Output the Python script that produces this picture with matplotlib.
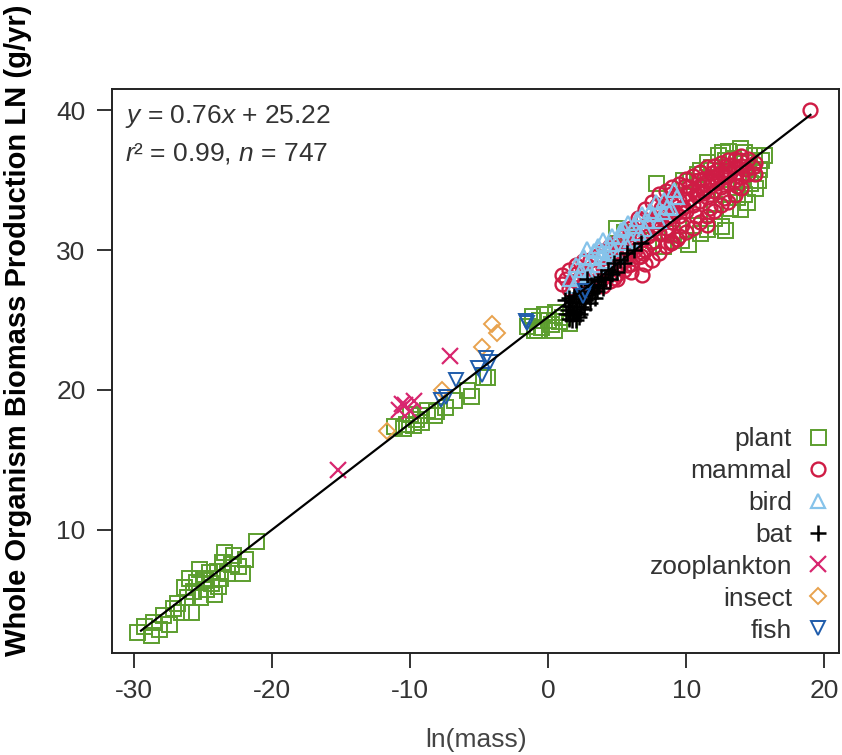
import matplotlib
matplotlib.use("Agg")
import matplotlib.pyplot as plt
import numpy as np

plt.rcParams['font.family'] = ['Liberation Sans', 'DejaVu Sans']
plt.rcParams['mathtext.fontset'] = 'custom'
plt.rcParams['mathtext.rm'] = 'Liberation Sans'
plt.rcParams['mathtext.it'] = 'Liberation Sans:italic'
plt.rcParams['axes.unicode_minus'] = False

# ---------------- data ----------------
plant_x = [-29.8, -29.3, -28.8, -28.6, -28.2, -27.9, -27.5, -27.2, -26.9, -26.6, -26.4, -26.2, -25.9,
           -25.7, -25.5, -25.2, -25.0, -24.8, -24.6, -24.4, -24.2, -24.0, -23.8, -23.6, -23.5, -23.3,
           -23.0, -22.8, -22.5, -22.2, -22.0, -21.2, -26.0, -25.3, -24.9, -23.9,
           -11.2, -10.5, -10.3, -9.6, -9.2, -9.3, -8.8, -8.3, -8.1, -7.5, -6.8, -5.9, -5.6, -4.7, -4.4,
           -10.0, -9.8,
           -1.5, -1.0, -0.8, -0.5, 0.0, 0.4, 0.8, -0.3, 0.5, 1.0, -1.2, 0.2, 1.5, -0.7,
           4.9, 5.5, 7.6, 7.8, 9.6, 10.1, 9.8, 11.5, 12.3, 13.0, 13.9, 14.9, 15.4, 13.7, 14.4, 13.9,
           12.5, 12.8, 11.0, 12.0, 14.8, 15.2, 14.5, 13.4, 12.8, 11.8, 10.8, 11.5, 13.2, 15.0, 14.2,
           13.5, 14.0, 14.6, 15.3, 12.0, 12.6, 10.5, 9.0, 8.3, 15.6, 14.2, 12.6, 11.0, 10.3]
plant_y = [2.7, 3.1, 2.5, 3.4, 2.9, 3.9, 3.3, 4.4, 4.8, 4.1, 5.9, 5.2, 4.1,
           5.6, 6.3, 5.2, 6.6, 5.8, 7.0, 6.2, 5.4, 7.1, 6.6, 7.7, 8.4, 6.9,
           7.6, 8.2, 7.4, 6.9, 7.9, 9.2, 6.6, 7.2, 6.4, 6.0,
           17.4, 17.3, 17.6, 17.9, 17.7, 18.2, 18.6, 18.2, 18.5, 18.8, 19.3, 20.0, 19.6, 20.9, 20.9,
           18.3, 17.5,
           24.6, 24.3, 24.3, 24.5, 25.0, 24.3, 24.9, 25.4, 25.6, 25.2, 25.3, 24.7, 24.8, 25.0,
           31.6, 31.3, 30.7, 34.8, 30.7, 30.4, 35.0, 36.3, 36.8, 37.1, 37.3, 36.8, 36.4, 33.8, 33.4, 32.9,
           31.7, 31.4, 31.2, 32.3, 35.6, 35.0, 36.3, 36.6, 36.4, 35.9, 35.4, 31.5, 33.0, 34.4, 34.0,
           34.5, 35.0, 34.8, 35.8, 33.3, 34.0, 31.8, 31.2, 30.3, 36.8, 37.0, 37.0, 35.7, 34.9]

mammal_x = [1.0, 1.0, 1.5, 1.5, 2.0, 2.0, 2.0, 2.5, 2.5, 2.5, 3.0, 3.0, 3.0, 3.5, 3.5, 3.5,
            4.0, 4.0, 4.0, 4.0, 4.5, 4.5, 4.5, 5.0, 5.0, 5.0, 5.0, 5.5, 5.5, 5.5, 5.5,
            6.0, 6.0, 6.0, 6.0, 6.5, 6.5, 6.5, 7.0, 7.0, 7.0, 7.0, 7.5, 7.5, 7.5, 7.5,
            8.0, 8.0, 8.0, 8.0, 8.5, 8.5, 8.5, 8.5, 9.0, 9.0, 9.0, 9.0, 9.5, 9.5, 9.5, 9.5,
            10.0, 10.0, 10.0, 10.0, 10.5, 10.5, 10.5, 10.5, 11.0, 11.0, 11.0, 11.0,
            11.5, 11.5, 11.5, 11.5, 11.5, 12.0, 12.0, 12.0, 12.0, 12.5, 12.5, 12.5, 12.5,
            13.0, 13.0, 13.0, 13.0, 13.5, 13.5, 13.5, 13.5, 14.0, 14.0, 14.0, 14.0,
            14.5, 14.5, 15.0, 15.0, 19.0, 6.8, 8.9, 9.3, 10.8, 12.2, 7.8, 6.3, 9.8, 11.3, 12.8,
            4.2, 4.7, 5.2, 5.7, 6.2, 6.7, 7.2, 7.7, 8.2, 8.7, 9.2, 9.7, 10.2, 10.7, 11.2, 11.7,
            12.2, 12.7, 13.2, 13.7,
            5.2, 6.2, 7.2, 8.2, 9.2, 10.2, 11.2, 12.2, 13.2,
            6.7, 7.7, 8.7, 9.7, 10.7, 11.7, 12.7, 13.7,
            3.2, 2.7, 1.8, 1.3, 3.8, 4.8, 5.8, 6.9,
            8.9, 9.9, 10.9, 11.9, 12.9, 13.9, 14.3, 14.8,
            7.9, 6.9, 5.9, 4.9]
mammal_y = [27.6, 28.2, 28.6, 27.2, 28.9, 27.8, 28.3, 29.2, 27.5, 28.5, 29.3, 28.0, 27.3, 29.6, 28.4, 27.6,
            29.9, 28.8, 27.4, 28.2, 30.3, 29.0, 27.8, 30.6, 29.6, 28.3, 27.9, 31.0, 30.0, 28.6, 29.2,
            31.6, 30.4, 29.0, 28.4, 32.3, 31.0, 29.5, 32.9, 31.4, 30.0, 29.0, 33.4, 32.0, 30.6, 29.3,
            34.0, 32.5, 31.2, 29.8, 34.2, 33.0, 31.6, 30.3, 34.5, 33.3, 32.0, 30.6, 34.7, 33.6, 32.4, 31.0,
            35.1, 34.0, 32.8, 31.3, 35.3, 34.3, 33.2, 31.6, 35.6, 34.6, 33.5, 32.0,
            35.9, 34.9, 33.8, 32.4, 31.8, 36.0, 35.2, 34.2, 32.8, 36.2, 35.5, 34.5, 33.2,
            36.4, 35.7, 34.8, 33.4, 36.5, 35.9, 35.0, 33.9, 36.7, 36.0, 35.2, 34.4,
            36.5, 35.4, 35.4, 36.2, 40.0, 28.2, 30.5, 30.8, 33.9, 34.8, 31.8, 30.0, 33.1, 34.1, 35.3,
            28.5, 29.3, 29.0, 29.7, 30.2, 30.7, 31.0, 31.5, 31.9, 32.3, 32.7, 33.0, 33.5, 33.9, 34.2, 34.6,
            34.9, 35.2, 35.5, 35.6,
            30.1, 31.2, 32.0, 33.0, 33.8, 34.5, 35.1, 35.7, 36.1,
            29.6, 30.3, 31.1, 31.8, 32.4, 33.0, 33.7, 34.6,
            28.7, 28.0, 27.3, 27.9, 27.9, 28.0, 28.9, 29.8,
            34.0, 34.6, 35.0, 35.5, 36.0, 36.4, 35.8, 35.9,
            33.2, 32.2, 31.3, 30.5]

bird_x = [1.9, 2.4, 2.8, 3.1, 3.5, 4.0, 4.3, 4.8, 5.3, 5.6, 6.0, 6.2, 6.6, 7.2, 7.6, 8.0, 8.6, 9.1,
          3.8, 2.2, 5.0, 7.0, 8.3, 3.0, 4.5,
          1.6, 2.0, 2.6, 3.3, 3.6, 4.1, 4.6, 5.1, 5.8, 6.4, 6.8, 7.4, 7.8, 8.4, 8.9, 9.3, 2.9, 3.9, 5.5]
bird_y = [27.4, 28.6, 30.1, 29.4, 28.9, 30.7, 29.8, 30.1, 31.4, 30.5, 30.7, 31.7, 31.2, 32.1, 32.6, 32.1,
          33.1, 34.3, 29.5, 28.0, 29.6, 31.5, 32.7, 28.5, 30.4,
          27.9, 28.9, 29.5, 29.9, 30.3, 29.2, 31.0, 30.9, 31.9, 32.2, 32.6, 32.8, 33.4, 33.6, 33.0, 33.8,
          28.2, 29.9, 31.6]

bat_x = [1.2, 1.4, 1.5, 1.6, 1.8, 1.9, 2.0, 2.1, 2.3, 2.4, 2.5, 2.6, 2.8, 2.9, 3.1, 3.3, 3.4, 3.6,
         3.8, 4.0, 4.3, 4.5, 4.8, 5.0, 5.2, 5.7, 6.2, 6.7, 1.7, 2.2,
         1.3, 1.5, 1.7, 1.9, 2.0, 2.2, 2.4, 2.7, 2.9, 3.0, 3.2, 3.5, 3.7, 4.1, 4.6, 5.5, 1.6, 2.3]
bat_y = [26.4, 25.7, 25.1, 26.0, 25.4, 26.7, 26.2, 25.6, 26.9, 27.1, 26.3, 25.8, 27.9, 26.8, 27.5, 27.4,
         26.6, 27.8, 28.1, 27.3, 28.6, 27.9, 29.1, 28.4, 29.3, 29.8, 30.0, 30.5, 25.0, 25.2,
         25.4, 26.6, 26.3, 25.6, 25.0, 26.5, 25.9, 26.4, 27.3, 26.2, 26.9, 27.1, 27.5, 27.9, 28.3, 29.1,
         25.4, 25.4]

zoo_x = [-15.2, -10.8, -10.4, -10.0, -9.7, -10.6, -7.1]
zoo_y = [14.3, 18.6, 18.9, 18.5, 19.2, 19.0, 22.4]

insect_x = [-11.7, -7.7, -4.8, -4.1, -3.7]
insect_y = [17.1, 20.0, 23.1, 24.7, 24.1]

fish_x = [-7.8, -7.4, -6.7, -5.1, -4.8, -4.5, -4.2, -1.6, -1.5, 2.5, 2.7]
fish_y = [19.3, 19.5, 20.7, 21.6, 21.1, 22.3, 22.0, 24.9, 24.8, 26.7, 27.1]

fit_slope, fit_intercept = 0.76, 25.22
fit_x = [-29.5, 19.0]

x_ticks = [-30, -20, -10, 0, 10, 20]
y_ticks = [10, 20, 30, 40]

# ---------------- plot ----------------
fig = plt.figure(figsize=(8.42, 7.55), dpi=100)
ax = fig.add_axes([0.133, 0.135, 0.864, 0.747])

c_plant = '#5c9e2e'
c_mammal = '#cf1c45'
c_bird = '#86c3ea'
c_bat = '#000000'
c_zoo = '#d8266f'
c_insect = '#e8a24e'
c_fish = '#1f5cab'

mew = 1.4
ax.plot(plant_x, plant_y, 's', ms=10.8, mfc='none', mec=c_plant, mew=mew, label='plant', ls='none')
ax.plot(mammal_x, mammal_y, 'o', ms=10, mfc='none', mec=c_mammal, mew=1.7, label='mammal', ls='none')
ax.plot(bird_x, bird_y, '^', ms=10, mfc='none', mec=c_bird, mew=1.6, label='bird', ls='none')
ax.plot(bat_x, bat_y, '+', ms=11, mec=c_bat, mew=1.8, label='bat', ls='none')
ax.plot(zoo_x, zoo_y, 'x', ms=11, mec=c_zoo, mew=1.6, label='zooplankton', ls='none')
ax.plot(insect_x, insect_y, 'D', ms=8, mfc='none', mec=c_insect, mew=mew, label='insect', ls='none')
ax.plot(fish_x, fish_y, 'v', ms=10, mfc='none', mec=c_fish, mew=mew, label='fish', ls='none')

fx = np.array(fit_x)
ax.plot(fx, fit_slope * fx + fit_intercept, color='black', lw=1.6, zorder=5)

ax.set_xlim(-31.6, 21.1)
ax.set_ylim(1.2, 41.5)
ax.set_xticks(x_ticks)
ax.set_yticks(y_ticks)
ax.tick_params(direction='out', length=11, width=1.4, labelsize=19, colors='#333333', pad=8)
for s in ax.spines.values():
    s.set_linewidth(1.4)
    s.set_color('#222222')

ax.set_xlabel('ln(mass)', fontsize=19, color='#444444', labelpad=18)
fig.text(0.021, 0.563, 'Whole Organism Biomass Production LN (g/yr)', rotation=90,
         fontsize=21, fontweight='bold', ha='center', va='center', color='black')

ax.text(0.018, 0.975, r'$y$ = 0.76$x$ + 25.22', transform=ax.transAxes, fontsize=19,
        color='#333333', va='top', ha='left')
ax.text(0.018, 0.908, r'$r$² = 0.99, $n$ = 747', transform=ax.transAxes, fontsize=19,
        color='#333333', va='top', ha='left')

leg = ax.legend(loc='lower right', frameon=False, markerfirst=False, fontsize=19,
                handlelength=0.8, handletextpad=0.6, labelspacing=0.3, borderaxespad=0.0)
for t in leg.get_texts():
    t.set_color('#333333')

fig.savefig('out.png', dpi=100)
